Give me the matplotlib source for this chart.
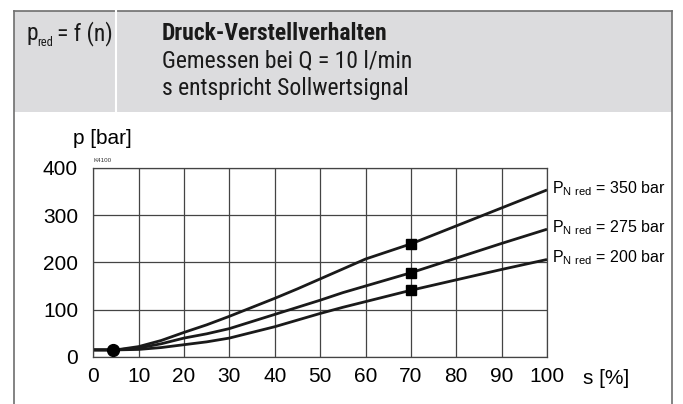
import matplotlib.pyplot as plt
import numpy as np
from matplotlib.patches import Rectangle
from matplotlib.lines import Line2D

# data
s = [0, 5, 10, 15, 20, 25, 30, 35, 40, 45, 50, 55, 60, 65, 70, 80, 90, 100]
p_350 = [15, 15, 22, 35, 52, 68, 86, 105, 124, 144, 165, 186, 207, 223, 239, 277, 315, 353]
p_275 = [15, 15, 19, 28, 40, 49, 60, 75, 90, 105, 120, 136, 150, 164, 178, 209, 240, 270]
p_200 = [15, 15, 16, 20, 26, 32, 40, 52, 64, 78, 92, 105, 117, 129, 141, 163, 185, 206]
curve_labels = ['350', '275', '200']
start_point = (4.4, 15)
mark_s = 70

W, H = 683, 404
NARROW = ['Roboto Condensed', 'Barlow Condensed', 'DejaVu Sans']
plt.rcParams['font.family'] = ['Liberation Sans', 'DejaVu Sans']

fig = plt.figure(figsize=(W / 100, H / 100), dpi=100)


def fx(x):
    return x / W


def fy(y):
    return 1 - y / H


# frame and header box
fig.add_artist(Rectangle((fx(14), fy(112)), fx(672) - fx(14), fy(11) - fy(112),
                         transform=fig.transFigure, facecolor='#dcdcde', edgecolor='none'))
fig.add_artist(Line2D([fx(14), fx(672)], [fy(11), fy(11)], transform=fig.transFigure,
                      color='#6e6e6e', lw=1.2))
fig.add_artist(Line2D([fx(14), fx(14)], [fy(11), 0], transform=fig.transFigure,
                      color='#6e6e6e', lw=1.2))
fig.add_artist(Line2D([fx(672), fx(672)], [fy(11), 0], transform=fig.transFigure,
                      color='#6e6e6e', lw=1.2))
fig.add_artist(Line2D([fx(116), fx(116)], [fy(112), fy(11)], transform=fig.transFigure,
                      color='white', lw=1.5))

# header text
hdr = dict(family=NARROW, va='baseline', color='#1a1a1a')
fig.text(fx(26), fy(40), 'p', fontsize=17, **hdr)
fig.text(fx(37.5), fy(46), 'red', fontsize=9, **hdr)
fig.text(fx(57), fy(40), '= f (n)', fontsize=17, **hdr)
fig.text(fx(162), fy(40), 'Druck-Verstellverhalten', fontsize=17, fontweight='bold', **hdr)
fig.text(fx(162), fy(67), 'Gemessen bei Q = 10 l/min', fontsize=17, **hdr)
fig.text(fx(162), fy(95), 's entspricht Sollwertsignal', fontsize=17, **hdr)

# chart
ax = fig.add_axes([fx(93.3), fy(357), fx(547) - fx(93.3), fy(167.7) - fy(357)])
ax.set_xlim(0, 100)
ax.set_ylim(0, 400)
ax.set_xticks(np.arange(0, 101, 10))
ax.set_yticks(np.arange(0, 401, 100))
ax.grid(True, color='#444444', lw=0.9)
ax.tick_params(length=0, labelsize=15)
ax.tick_params(axis='y', pad=11)
ax.tick_params(axis='x', pad=7)
for sp in ax.spines.values():
    sp.set_color('#444444')
    sp.set_linewidth(0.9)

series = [p_350, p_275, p_200]
for vals, lab in zip(series, curve_labels):
    ax.plot(s, vals, color='#1a1a1a', lw=2.0, solid_capstyle='butt', clip_on=False)
    ax.plot(mark_s, vals[s.index(mark_s)], 's', color='black', ms=6.5)
    ax.text(101, vals[-1] + 3, r'$\mathregular{P_{N\ red}}$ = ' + lab + ' bar',
            fontsize=11.5, va='center', ha='left', clip_on=False)

ax.plot(*start_point, 'o', color='black', ms=8.5, zorder=5)

fig.text(fx(102), fy(138), 'p [bar]', fontsize=15, ha='center', va='center')
fig.text(fx(93), fy(160), 'K4100', fontsize=4.5, ha='left', va='center', color='#333333')
fig.text(fx(606), fy(378), 's [%]', fontsize=15, ha='center', va='center')

fig.savefig('out.png', dpi=100)
